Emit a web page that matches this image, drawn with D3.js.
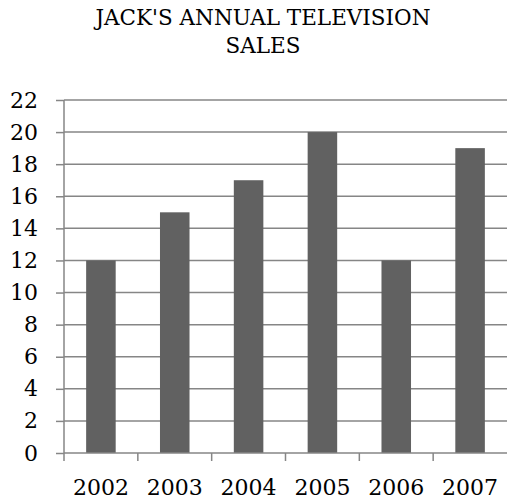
<!DOCTYPE html>
<html>
<head>
<meta charset="utf-8">
<script src="https://cdn.jsdelivr.net/npm/d3@7"></script>
<style>
  body { margin: 0; background: #fff; }
  svg text { font-family: "DejaVu Serif", serif; fill: #000; }
</style>
</head>
<body>
<svg width="507" height="502"></svg>
<script>
const years = ["2002", "2003", "2004", "2005", "2006", "2007"];
const sales = [12, 15, 17, 20, 12, 19];
const yTicks = [0, 2, 4, 6, 8, 10, 12, 14, 16, 18, 20, 22];
const titleLines = ["JACK'S ANNUAL TELEVISION", "SALES"];

const svg = d3.select("svg");
const plotLeft = 64, plotRight = 507, plotTop = 100, plotBottom = 453;
const gridColor = "#868686";
const barColor = "#616161";

const x = d3.scaleBand()
    .domain(years)
    .range([plotLeft, plotRight])
    .paddingInner(0.6)
    .paddingOuter(0.3);

const y = d3.scaleLinear()
    .domain([0, 22])
    .range([plotBottom, plotTop]);

// title
svg.selectAll(".title")
    .data(titleLines)
    .enter().append("text")
    .attr("class", "title")
    .attr("x", 263)
    .attr("y", (d, i) => 25 + i * 28)
    .attr("text-anchor", "middle")
    .style("font-size", "21.5px")
    .text(d => d);

// gridlines
svg.selectAll(".grid")
    .data(yTicks.slice(1))
    .enter().append("line")
    .attr("class", "grid")
    .attr("x1", plotLeft)
    .attr("x2", plotRight)
    .attr("y1", d => y(d))
    .attr("y2", d => y(d))
    .attr("stroke", gridColor)
    .attr("stroke-width", 1.5);

// bars
svg.selectAll(".bar")
    .data(years)
    .enter().append("rect")
    .attr("class", "bar")
    .attr("x", d => x(d))
    .attr("width", x.bandwidth())
    .attr("y", (d, i) => y(sales[i]))
    .attr("height", (d, i) => plotBottom - y(sales[i]))
    .attr("fill", barColor);

// y axis
const yAxis = svg.append("g")
    .attr("transform", `translate(${plotLeft},0)`)
    .call(d3.axisLeft(y).tickValues(yTicks).tickSize(8).tickPadding(18));
yAxis.selectAll("line, path").attr("stroke", gridColor).attr("stroke-width", 1.5);
yAxis.select(".domain").attr("d", `M0,${plotTop}V${plotBottom}`);
yAxis.selectAll("text").style("font-size", "22px").style("font-family", "DejaVu Serif");

// x axis
const step = x.step();
const xAxis = svg.append("g")
    .attr("transform", `translate(0,${plotBottom})`);
xAxis.append("line")
    .attr("x1", plotLeft).attr("x2", plotRight)
    .attr("stroke", gridColor).attr("stroke-width", 1.5);
xAxis.selectAll(".xtick")
    .data(years)
    .enter().append("line")
    .attr("class", "xtick")
    .attr("x1", (d, i) => plotLeft + i * step)
    .attr("x2", (d, i) => plotLeft + i * step)
    .attr("y1", 0).attr("y2", 8)
    .attr("stroke", gridColor).attr("stroke-width", 1.5);
xAxis.selectAll(".xlabel")
    .data(years)
    .enter().append("text")
    .attr("class", "xlabel")
    .attr("x", d => x(d) + x.bandwidth() / 2)
    .attr("y", 42)
    .attr("text-anchor", "middle")
    .style("font-size", "22px")
    .text(d => d);
</script>
</body>
</html>
